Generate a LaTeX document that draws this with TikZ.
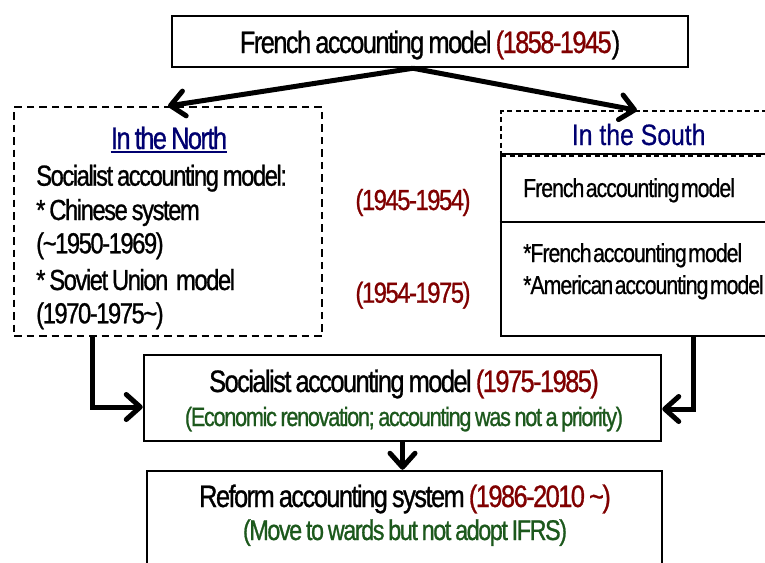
\documentclass[tikz,border=0pt]{standalone}
\usepackage{fontspec}
\setmainfont{Liberation Sans}[FakeStretch=0.82,LetterSpace=-5,WordSpace=0.75,FakeBold=0.9]
\newfontfamily\headfont{Liberation Sans}[FakeStretch=0.84,FakeBold=0.5]
\newfontfamily\southfont{Liberation Sans}[FakeStretch=0.82,LetterSpace=-4,WordSpace=0.3,FakeBold=0.7]
\usetikzlibrary{arrows.meta}
\definecolor{datered}{RGB}{128,0,0}
\definecolor{notegreen}{RGB}{28,88,28}
\definecolor{headblue}{RGB}{0,0,112}
\newcommand{\fs}[1]{\fontsize{#1}{#1}\selectfont}
\tikzset{
  solidbox/.style={draw, line width=2.5pt, inner sep=0pt, rectangle},
  dashbox/.style={draw, line width=2pt, dash pattern=on 7.5pt off 5pt, inner sep=0pt, rectangle},
  thindash/.style={draw, line width=1.3pt, dash pattern=on 5pt off 3.5pt, inner sep=0pt, rectangle},
  txt/.style={inner sep=0pt, anchor=base},
  ltxt/.style={inner sep=0pt, anchor=base west},
  conn/.style={line width=5pt, -{Straight Barb[length=14pt,width=25pt,round]}},
}
\begin{document}
\begin{tikzpicture}[x=1pt, y=-1pt]
\useasboundingbox (0,0) rectangle (765,562);

% boxes
\node[solidbox, minimum width=516pt, minimum height=51pt] (topbox) at (430,41.5) {};
\node[dashbox, minimum width=308pt, minimum height=229pt] (north) at (168,221.5) {};
\node[thindash, minimum width=272pt, minimum height=45pt] (southhead) at (637,133.5) {};
\node[solidbox, line width=2.2pt, minimum width=272pt, minimum height=182pt] (southbox) at (637,245) {};
\draw[line width=2.2pt] (southbox.west |- 0,222) -- (southbox.east |- 0,222);
\node[solidbox, minimum width=517pt, minimum height=86pt] (mid) at (402.5,398) {};
\node[solidbox, minimum width=515pt, minimum height=109pt] (bottom) at (404.5,525.5) {};

% top box text
\node[txt] (toptext) at (430,53) {\fs{31}French accounting model \textcolor{datered}{(1858-1945})};

% north column
\node[txt, text=headblue] (northhead) at (169,149) {\fs{31}In the North};
\draw[headblue, line width=1.8pt] ([yshift=-3pt]northhead.base west) -- ([yshift=-3pt]northhead.base east);
\node[ltxt] (n1) at (36,185.7) {\fs{29}Socialist accounting model:};
\node[ltxt] (n2) at (36,220) {\fs{29}* Chinese system};
\node[ltxt] (n3) at (36,253.3) {\fs{29}(\textasciitilde1950-1969)};
\node[ltxt] (n4) at (36,290) {\fs{29}* Soviet Union\ \ model};
\node[ltxt] (n5) at (36,323.3) {\fs{29}(1970-1975\textasciitilde)};

% periods
\node[txt, text=datered] (p1) at (413,210) {\fs{29}(1945-1954)};
\node[txt, text=datered] (p2) at (413,302.7) {\fs{29}(1954-1975)};

% south column
\node[txt, text=headblue] (southtitle) at (638.7,145) {\headfont\fs{29.5}In the South};
\node[ltxt] (s1) at (523,197) {\southfont\fs{26}French accounting model};
\node[ltxt] (s2) at (523,262) {\southfont\fs{26}*French accounting model};
\node[ltxt] (s3) at (523,294) {\southfont\fs{26}*American accounting model};

% middle box text
\node[txt] (m1) at (404,392) {\fs{31}Socialist accounting model \textcolor{datered}{(1975-1985)}};
\node[txt, text=notegreen] (m2) at (404,426) {\fs{26.5}(Economic renovation; accounting was not a priority)};

% bottom box text
\node[txt] (b1) at (405,507) {\fs{31}Reform accounting system \textcolor{datered}{(1986-2010 \textasciitilde)}};
\node[txt, text=notegreen] (b2) at (405,540) {\fs{28.5}(Move to wards but not adopt IFRS)};

% connectors
\draw[conn] ([xshift=-17pt]topbox.south) -- (north.north);
\draw[conn] ([xshift=-17pt]topbox.south) -- (southhead.north);
\draw[conn] ([xshift=79pt]north.south west) |- ([yshift=-9pt]mid.west);
\draw[conn] ([xshift=-81pt]southbox.south east) |- ([yshift=-11pt]mid.east);
\draw[conn] (mid.south) -- (mid.south |- bottom.north);
\end{tikzpicture}
\end{document}
